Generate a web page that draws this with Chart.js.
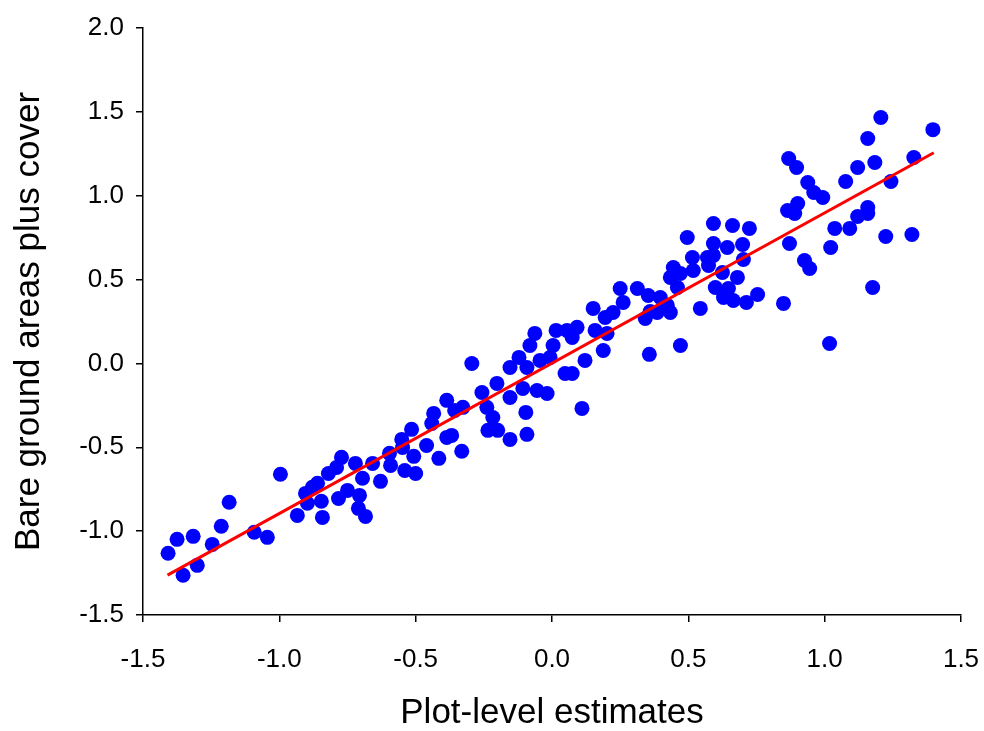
<!DOCTYPE html>
<html>
<head>
<meta charset="utf-8">
<script src="https://cdn.jsdelivr.net/npm/chart.js@4.4.1/dist/chart.umd.min.js"></script>
<style>
  html, body { margin: 0; padding: 0; background: #fff; }
  canvas { display: block; }
</style>
</head>
<body>
<canvas id="scatterChart" width="984" height="731"></canvas>
<script>
// plot-level estimates vs bare ground areas plus cover
const xVals = [
  -1.408,-1.375,-1.316,-1.353,-1.301,-1.246,-1.213,-1.184,-1.092,-1.044,
  -0.996,-0.934,-0.897,-0.904,-0.879,-0.860,-0.842,-0.846,-0.820,-0.772,
  -0.790,-0.783,-0.750,-0.721,-0.706,-0.710,-0.684,-0.695,-0.658,-0.629,
  -0.596,-0.592,-0.540,-0.548,-0.500,-0.515,-0.507,-0.551,-0.460,-0.415,
  -0.441,-0.434,-0.386,-0.368,-0.386,-0.357,-0.327,-0.331,-0.294,-0.257,
  -0.239,-0.217,-0.235,-0.199,-0.154,-0.092,-0.096,-0.154,-0.202,-0.154,
  -0.121,-0.092,-0.107,-0.055,-0.018,-0.081,-0.063,0.004,-0.007,0.015,
  -0.044,0.048,0.074,0.055,0.092,0.074,0.110,0.121,0.158,0.188,
  0.202,0.151,0.195,0.224,0.250,0.261,0.313,0.353,0.397,0.342,
  0.357,0.386,0.434,0.434,0.445,0.471,0.471,0.496,0.515,0.544,
  0.574,0.592,0.592,0.599,0.629,0.643,0.662,0.665,0.680,1.206,
  1.397,1.158,0.868,0.897,1.121,1.184,1.327,0.938,0.960,0.993,
  1.077,1.243,0.864,0.901,0.890,1.158,1.121,1.158,0.724,0.699,
  0.871,1.037,1.092,1.224,1.320,1.022,0.570,0.592,0.702,0.518,
  0.625,0.926,0.945,0.460,0.647,0.713,0.754,0.849,1.176,0.423,
  0.360,1.018
];
const yVals = [
  -1.132,-1.049,-1.031,-1.263,-1.204,-1.079,-0.971,-0.828,-1.007,-1.037,
  -0.661,-0.906,-0.834,-0.775,-0.739,-0.715,-0.918,-0.822,-0.656,-0.560,
  -0.620,-0.805,-0.757,-0.596,-0.787,-0.864,-0.912,-0.685,-0.596,-0.703,
  -0.536,-0.608,-0.638,-0.501,-0.656,-0.393,-0.554,-0.453,-0.489,-0.566,
  -0.358,-0.298,-0.441,-0.429,-0.220,-0.280,-0.262,-0.524,0.000,-0.173,
  -0.262,-0.322,-0.399,-0.399,-0.453,-0.423,-0.292,-0.203,-0.119,-0.024,
  0.036,-0.024,-0.149,-0.161,-0.179,0.107,0.179,0.107,0.036,0.197,
  0.018,-0.060,-0.060,0.197,0.215,0.155,-0.268,0.018,0.197,0.077,
  0.179,0.328,0.274,0.304,0.447,0.364,0.447,0.405,0.393,0.268,
  0.054,0.304,0.304,0.513,0.572,0.536,0.107,0.751,0.632,0.328,
  0.584,0.715,0.834,0.453,0.393,0.691,0.822,0.375,0.513,1.466,
  1.394,1.341,1.222,1.168,1.168,1.198,1.228,1.079,1.019,0.989,
  1.085,1.085,0.912,0.954,0.894,0.930,0.876,0.894,0.805,0.709,
  0.715,0.805,0.805,0.757,0.769,0.691,0.632,0.644,0.620,0.554,
  0.542,0.614,0.566,0.453,0.447,0.364,0.411,0.358,0.453,0.346,
  0.310,0.119
];
// fitted regression line end points
const fitX = [-1.41, 1.40];
const fitY = [-1.262, 1.256];

const points = xVals.map((x, i) => ({ x: x, y: yVals[i] }));
const fitLine = fitX.map((x, i) => ({ x: x, y: fitY[i] }));

Chart.defaults.font.family = "'Liberation Sans', Arial, sans-serif";
Chart.defaults.color = "#000";

new Chart(document.getElementById("scatterChart"), {
  type: 'scatter',
  data: {
    datasets: [
      { type: 'line', data: fitLine, borderColor: '#ff0000', borderWidth: 3, pointRadius: 0, fill: false, order: 0 },
      { data: points, backgroundColor: '#0000ff', borderWidth: 0, pointRadius: 7.5, order: 1 }
    ]
  },
  options: {
    responsive: false,
    animation: false,
    layout: { padding: { top: 28, right: 23, left: 0, bottom: 0 } },
    plugins: { legend: { display: false }, tooltip: { enabled: false } },
    scales: {
      x: {
        type: 'linear', min: -1.5, max: 1.5,
        afterFit: s => { s.height = 116; s.paddingLeft = 0; s.paddingRight = 0; },
        border: { display: true, color: '#000', width: 1.5 },
        grid: { drawOnChartArea: false, drawTicks: true, tickLength: 7, color: '#000', lineWidth: 1.5 },
        ticks: { stepSize: 0.5, padding: 22, font: { size: 26 }, callback: v => v.toFixed(1), maxRotation: 0 },
        title: { display: true, text: 'Plot-level estimates', font: { size: 35, lineHeight: 1 }, padding: { top: 0, bottom: 0 } }
      },
      y: {
        type: 'linear', min: -1.5, max: 2.0,
        afterFit: s => { s.width = 143; s.paddingTop = 0; s.paddingBottom = 0; },
        border: { display: true, color: '#000', width: 1.5 },
        grid: { drawOnChartArea: false, drawTicks: true, tickLength: 7, color: '#000', lineWidth: 1.5 },
        ticks: { stepSize: 0.5, padding: 12, font: { size: 26 }, callback: v => v.toFixed(1) },
        title: { display: true, text: 'Bare ground areas plus cover', font: { size: 35, lineHeight: 1 }, padding: { top: 12, bottom: 0 } }
      }
    }
  }
});
</script>
</body>
</html>
